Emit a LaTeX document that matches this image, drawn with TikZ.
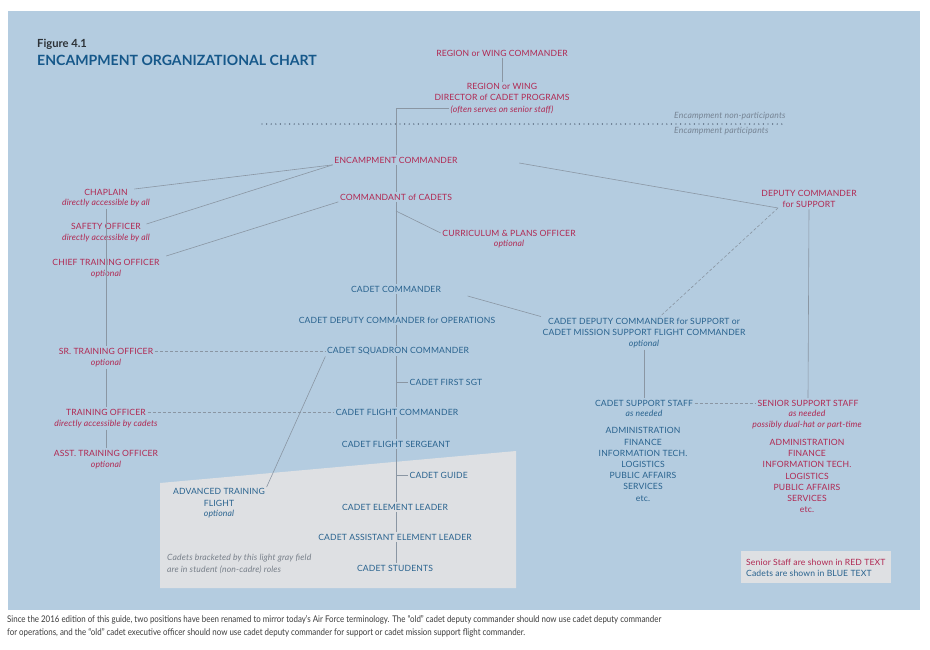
\documentclass[tikz,border=0pt]{standalone}
\usepackage{fontspec}
\setmainfont{Lato}
\newfontfamily\lab{Lato}[LetterSpace=1.5]
\newfontfamily\foot{Lato}[FakeStretch=0.86]
\usetikzlibrary{calc}
\definecolor{bg}{RGB}{180,204,224}
\definecolor{redt}{RGB}{176,40,82}
\definecolor{bluet}{RGB}{40,98,142}
\definecolor{ln}{RGB}{138,150,163}
\definecolor{fieldc}{RGB}{222,224,227}
\definecolor{titleb}{RGB}{22,88,138}
\definecolor{figc}{RGB}{45,50,55}
\definecolor{dotc}{RGB}{65,80,100}
\definecolor{grayt}{RGB}{120,128,138}
\definecolor{partc}{RGB}{118,132,148}
\definecolor{footc}{RGB}{60,60,60}
\newcommand\lf{\lab\fontsize{8.6}{11.2}\selectfont}
\begin{document}
\begin{tikzpicture}[x=1pt,y=-1pt,
  conn/.style={draw=ln, line width=0.6pt},
  dashln/.style={conn, dash pattern=on 3pt off 2pt},
  rt/.style={text=redt, font=\lf, inner sep=1.5pt, align=center},
  bt/.style={text=bluet, font=\lf, inner sep=1.5pt, align=center},
  rs/.style={text=redt, font=\lf\itshape, inner sep=1.5pt, align=center},
  bs/.style={text=bluet, font=\lf\itshape, inner sep=1.5pt, align=center},
  note/.style={inner sep=0pt, anchor=west, align=left}
]
\fill[white] (0,0) rectangle (930,649);
\useasboundingbox (0,0) rectangle (930,649);
\fill[bg] (8,11) rectangle (920,610);
\fill[fieldc] (160,483) -- (516,451) -- (516,588) -- (160,588) -- cycle;
\fill[fieldc] (741,551) rectangle (891,583);
\draw[dotc, line width=1.4pt, dash pattern=on 0pt off 4.6pt, line cap=round] (262,124) -- (783,124);

% title
\node[note, font=\fontsize{11.2}{12}\selectfont\bfseries, text=figc] (fig) at (37,44) {Figure 4.1};
\node[note, font=\fontsize{14.1}{16}\selectfont\bfseries, text=titleb] (ttl) at (37,60) {ENCAMPMENT ORGANIZATIONAL CHART};

% top
\node[rt] (rwc) at (502,53) {REGION or WING COMMANDER};
\node[rt] (dir) at (502,92) {REGION or WING\\DIRECTOR of CADET PROGRAMS};
\node[rs] (dirS) at (502,110) {(often serves on senior staff)};
\node[note, font=\lf\itshape, text=partc] (np) at (674,116) {Encampment non-participants};
\node[note, font=\lf\itshape, text=partc] (pp) at (674,131) {Encampment participants};

% centre senior
\node[rt] (enc) at (396,160) {ENCAMPMENT COMMANDER};
\node[rt] (comm) at (396,197) {COMMANDANT of CADETS};
\node[rt] (cpo) at (509,233) {CURRICULUM \& PLANS OFFICER};
\node[rs] (cpoS) at (509,244) {optional};

% left column
\node[rt] (chap) at (106,192) {CHAPLAIN};
\node[rs] (chapS) at (106,203) {directly accessible by all};
\node[rt] (saf) at (106,226) {SAFETY OFFICER};
\node[rs] (safS) at (106,238) {directly accessible by all};
\node[rt] (cto) at (106,262) {CHIEF TRAINING OFFICER};
\node[rs] (ctoS) at (106,274) {optional};
\node[rt] (srto) at (106,351) {SR. TRAINING OFFICER};
\node[rs] (srtoS) at (106,363) {optional};
\node[rt] (tro) at (106,412) {TRAINING OFFICER};
\node[rs] (troS) at (106,424) {directly accessible by cadets};
\node[rt] (asto) at (106,453) {ASST. TRAINING OFFICER};
\node[rs] (astoS) at (106,465) {optional};

% right
\node[rt] (dcs) at (809,199) {DEPUTY COMMANDER\\for SUPPORT};
\node[bt] (cds) at (644,327) {CADET DEPUTY COMMANDER for SUPPORT or\\CADET MISSION SUPPORT FLIGHT COMMANDER};
\node[bs] (cdsS) at (644,344) {optional};
\node[bt] (css) at (644,403) {CADET SUPPORT STAFF};
\node[bs] (cssS) at (644,413) {as needed};
\node[bt] (cssL) at (643,464.5) {ADMINISTRATION\\FINANCE\\INFORMATION TECH.\\LOGISTICS\\PUBLIC AFFAIRS\\SERVICES\\etc.};
\node[rt] (sss) at (808,403) {SENIOR SUPPORT STAFF};
\node[rs] (sssS) at (807,419.5) {as needed\\possibly dual-hat or part-time};
\node[rt] (sssL) at (807,476) {ADMINISTRATION\\FINANCE\\INFORMATION TECH.\\LOGISTICS\\PUBLIC AFFAIRS\\SERVICES\\etc.};

% cadet column
\node[bt] (cc) at (396,289) {CADET COMMANDER};
\node[bt] (cdo) at (397,320) {CADET DEPUTY COMMANDER for OPERATIONS};
\node[bt] (csq) at (398,351) {CADET SQUADRON COMMANDER};
\node[bt, anchor=west] (cfsg) at (408,382) {CADET FIRST SGT};
\node[bt] (cfc) at (397,412) {CADET FLIGHT COMMANDER};
\node[bt] (cfs) at (396,444) {CADET FLIGHT SERGEANT};
\node[bt, anchor=west] (cg) at (408,475) {CADET GUIDE};
\node[bt] (cel) at (395,507) {CADET ELEMENT LEADER};
\node[bt] (cael) at (395,537) {CADET ASSISTANT ELEMENT LEADER};
\node[bt] (cst) at (395,568) {CADET STUDENTS};
\node[bt] (atf) at (219,497.5) {ADVANCED TRAINING\\FLIGHT};
\node[bs] (atfS) at (219,514) {optional};
\node[note, font=\lf\itshape, text=grayt] (gnote) at (167,564) {Cadets bracketed by this light gray field\\are in student (non-cadre) roles};

% legend
\node[note, font=\lf, text=redt] (leg1) at (746,562) {Senior Staff are shown in RED TEXT};
\node[note, font=\lf, text=bluet] (leg2) at (746,573) {Cadets are shown in BLUE TEXT};

% footer
\node[note, font=\foot\fontsize{9.2}{11}\selectfont, text=footc] (ft1) at (7,620) {Since the 2016 edition of this guide, two positions have been renamed to mirror today’s Air Force terminology. The “old” cadet deputy commander should now use cadet deputy commander};
\node[note, font=\foot\fontsize{9.2}{11}\selectfont, text=footc] (ft2) at (7,633) {for operations, and the “old” cadet executive officer should now use cadet deputy commander for support or cadet mission support flight commander.};

% connectors
\coordinate (sp) at (396,0);
\coordinate (cbr) at (396,211);
\coordinate (dj) at (778,208);
\draw[conn] (rwc) -- (dir);
\draw[conn] ([yshift=2pt]dirS.west) -| (enc.north -| sp);
\draw[conn] (enc.south -| sp) -- (comm.north -| sp);
\draw[conn] (comm.south -| sp) -- (cc.north -| sp);
\draw[conn] (cbr) -- (cpo.west);
\draw[conn] (cc.south -| sp) -- (cdo.north -| sp);
\draw[conn] (cdo.south -| sp) -- (csq.north -| sp);
\draw[conn] (csq.south -| sp) -- (cfc.north -| sp);
\draw[conn] (cfsg.west) -- (cfsg.west -| sp);
\draw[conn] (cfc.south -| sp) -- (cfs.north -| sp);
\draw[conn] (cfs.south -| sp) -- (cel.north -| sp);
\draw[conn] (cg.west) -- (cg.west -| sp);
\draw[conn] (cel.south -| sp) -- (cael.north -| sp);
\draw[conn] (cael.south -| sp) -- (cst.north -| sp);

\draw[conn] ([xshift=5pt,yshift=3pt]chap.east) -- (enc.south west);
\draw[conn] ([xshift=4pt,yshift=2pt]saf.east) -- (enc.south west);
\draw[conn] ([xshift=5pt,yshift=6pt]cto.east) -- (comm.south west);
\draw[conn] (chapS.south) -- (srto.north);
\draw[conn] (srtoS.south) -- (tro.north);
\draw[conn] (troS.south) -- (asto.north);
\draw[dashln] (srto.east) -- (csq.west);
\draw[dashln] (tro.east) -- (cfc.west);
\draw[conn] (csq.south west) -- (atf.north east);

\draw[conn] ([xshift=60pt,yshift=-3pt]enc.east) -- (dj);
\draw[dashln] (dj) -- ([xshift=16pt]cds.north);
\draw[conn] (dcs.south) -- (sss.north);
\draw[conn, shorten <=26pt] (cc.east) -- (cds.north west);
\draw[conn] (cdsS.south) -- (css.north);
\draw[dashln] (css.east) -- (sss.west);
\end{tikzpicture}
\end{document}
